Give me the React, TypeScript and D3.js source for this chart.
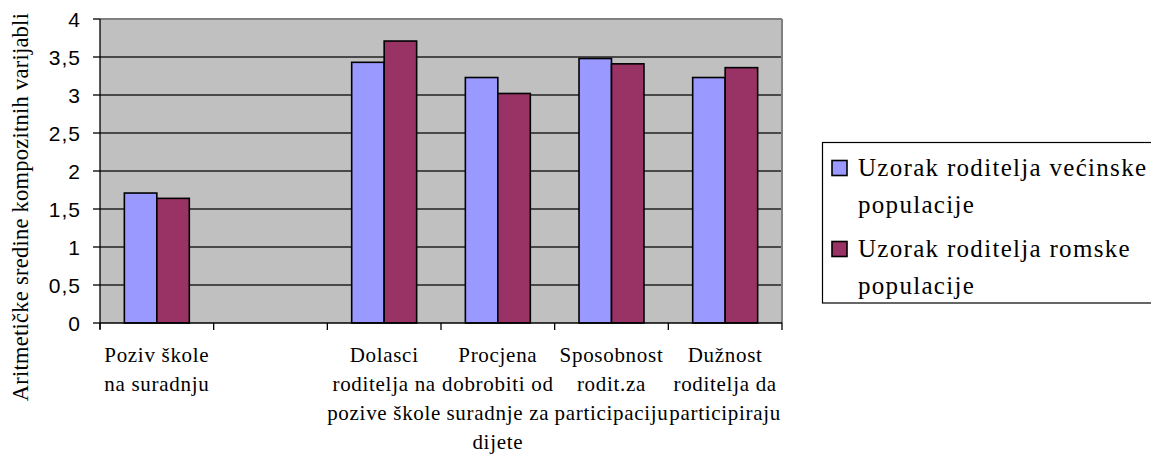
import * as d3 from "d3";

const W = 1151;
const H = 454;
const PLOT = { left: 100, right: 782, top: 19, bottom: 323 };

// categories, each label split into its printed lines
const categories = ["poziv", "empty", "dolasci", "procjena", "sposobnost", "duznost"];
const categoryLines: string[][] = [
  ["Poziv škole", "na suradnju"],
  [],
  ["Dolasci", "roditelja na", "pozive škole"],
  ["Procjena", "dobrobiti od", "suradnje za", "dijete"],
  ["Sposobnost", "rodit.za", "participaciju"],
  ["Dužnost", "roditelja da", "participiraju"],
];

const seriesNames = ["Uzorak roditelja većinske populacije", "Uzorak roditelja romske populacije"];
const legendLines = [
  ["Uzorak roditelja većinske", "populacije"],
  ["Uzorak roditelja romske", "populacije"],
];
const seriesColors = ["#9999FF", "#993366"];
const majorityValues: (number | null)[] = [1.71, null, 3.43, 3.23, 3.48, 3.23];
const romaValues: (number | null)[] = [1.64, null, 3.71, 3.02, 3.41, 3.36];

const yTicks = [0, 0.5, 1, 1.5, 2, 2.5, 3, 3.5, 4];
const yTitle = "Aritmetičke sredine kompozitnih varijabli";

const SERIF = "Liberation Serif";
const SANS = "Liberation Sans";

export default function App() {
  const x0 = d3.scaleBand<string>().domain(categories).range([PLOT.left, PLOT.right]).paddingInner(0).paddingOuter(0);
  const x1 = d3
    .scaleBand<number>()
    .domain([0, 1])
    .range([0, x0.bandwidth()])
    .paddingInner(0)
    .paddingOuter(0.75);
  const y = d3.scaleLinear().domain([0, 4]).range([PLOT.bottom, PLOT.top]);

  const values = [majorityValues, romaValues];
  const fmt = (t: number) => String(t).replace(".", ",");
  const tickXs = [...categories.map((c) => x0(c) ?? 0), PLOT.right];

  return (
    <svg width={W} height={H} style={{ position: "absolute", left: 0, top: 0, background: "#fff" }}>
      <rect x={PLOT.left} y={PLOT.top} width={PLOT.right - PLOT.left} height={PLOT.bottom - PLOT.top} fill="#C0C0C0" />
      {/* gridlines */}
      {yTicks.slice(1, -1).map((t) => (
        <line key={t} x1={PLOT.left} x2={PLOT.right} y1={y(t)} y2={y(t)} stroke="#222" strokeWidth={1.3} />
      ))}
      {/* plot border top/right */}
      <line x1={PLOT.left} x2={PLOT.right} y1={PLOT.top} y2={PLOT.top} stroke="#808080" strokeWidth={2} />
      <line x1={PLOT.right} x2={PLOT.right} y1={PLOT.top} y2={PLOT.bottom} stroke="#808080" strokeWidth={2} />

      {/* bars */}
      {values.map((vals, si) =>
        vals.map((v, ci) =>
          v == null ? null : (
            <rect
              key={`${si}-${ci}`}
              x={(x0(categories[ci]) ?? 0) + (x1(si) ?? 0)}
              y={y(v)}
              width={x1.bandwidth()}
              height={y(0) - y(v)}
              fill={seriesColors[si]}
              stroke="#000"
              strokeWidth={1.6}
            />
          ),
        ),
      )}

      {/* y axis */}
      <line x1={PLOT.left} x2={PLOT.left} y1={PLOT.top} y2={PLOT.bottom + 6} stroke="#000" strokeWidth={1.3} />
      {yTicks.map((t) => (
        <g key={t}>
          <line x1={PLOT.left - 7} x2={PLOT.left} y1={y(t)} y2={y(t)} stroke="#000" strokeWidth={1.3} />
          <text
            x={81}
            y={y(t)}
            dy="0.36em"
            textAnchor="end"
            style={{ fontFamily: SANS, fontSize: 21, letterSpacing: 1 }}
            fill="#000"
          >
            {fmt(t)}
          </text>
        </g>
      ))}

      {/* x axis */}
      <line x1={PLOT.left} x2={PLOT.right} y1={PLOT.bottom} y2={PLOT.bottom} stroke="#000" strokeWidth={1.6} />
      {tickXs.map((tx, i) => (
        <line key={i} x1={tx} x2={tx} y1={PLOT.bottom} y2={PLOT.bottom + 7} stroke="#000" strokeWidth={1.3} />
      ))}
      {categories.map((c, ci) => (
        <text
          key={c}
          x={(x0(c) ?? 0) + x0.bandwidth() / 2}
          y={362}
          textAnchor="middle"
          style={{ fontFamily: SERIF, fontSize: 21, letterSpacing: 0.7 }}
          fill="#000"
        >
          {categoryLines[ci].map((line, li) => (
            <tspan key={li} x={(x0(c) ?? 0) + x0.bandwidth() / 2} y={362 + li * 29}>
              {line}
            </tspan>
          ))}
        </text>
      ))}

      {/* y title */}
      <text
        transform="translate(28,207) rotate(-90)"
        textAnchor="middle"
        style={{ fontFamily: SERIF, fontSize: 22.5, letterSpacing: 0.25 }}
        fill="#000"
      >
        {yTitle}
      </text>

      {/* legend */}
      <g>
        <rect x={822.5} y={142.5} width={340} height={160.5} fill="#fff" stroke="#000" strokeWidth={1.2} />
        {seriesNames.map((name, si) => (
          <g key={name}>
            <rect
              x={832}
              y={160.5 + si * 81}
              width={15}
              height={15}
              fill={seriesColors[si]}
              stroke="#000"
              strokeWidth={1.6}
            />
            {legendLines[si].map((line, li) => (
              <text
                key={li}
                x={858}
                y={176 + si * 81 + li * 37}
                style={{ fontFamily: SERIF, fontSize: 25, letterSpacing: 1.3 }}
                fill="#000"
              >
                {line}
              </text>
            ))}
          </g>
        ))}
      </g>
    </svg>
  );
}
